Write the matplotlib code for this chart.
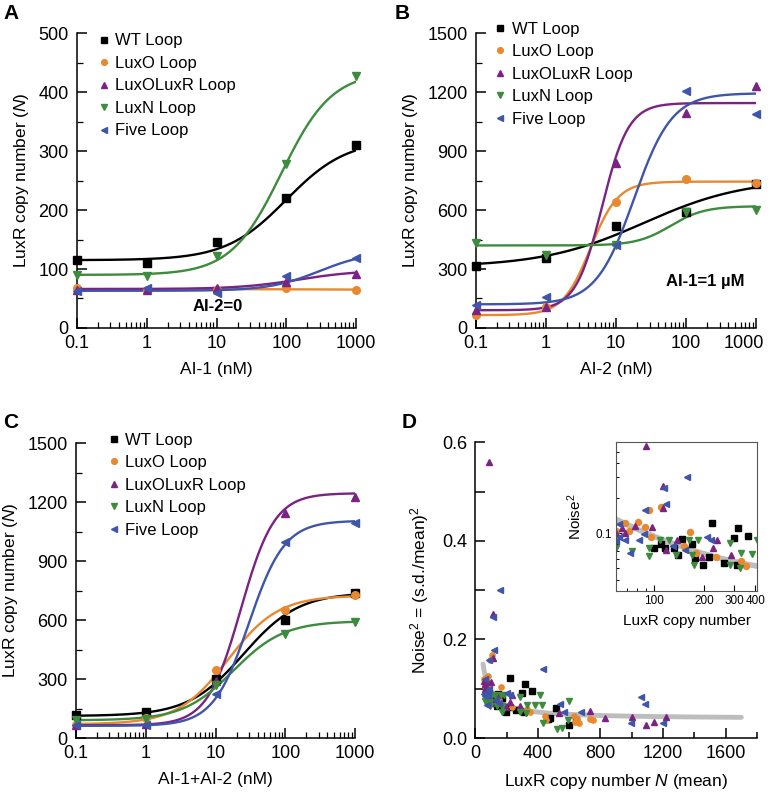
import numpy as np
import matplotlib
matplotlib.use("Agg")
import matplotlib.pyplot as plt
from matplotlib.ticker import FixedLocator, NullFormatter, LogLocator
from matplotlib.transforms import ScaledTranslation

plt.rcParams['font.family'] = ['Liberation Sans', 'DejaVu Sans']
plt.rcParams['mathtext.fontset'] = 'custom'
plt.rcParams['mathtext.rm'] = 'Liberation Sans'
plt.rcParams['mathtext.it'] = 'Liberation Sans:italic'
plt.rcParams['axes.linewidth'] = 1.1

# strains
names = ['WT Loop', 'LuxO Loop', 'LuxOLuxR Loop', 'LuxN Loop', 'Five Loop']
colors = ['#000000', '#E8892F', '#7A2383', '#3D8B3D', '#3F55AA']
markers = ['s', 'o', '^', 'v', '<']

conc = [0.1, 1, 10, 100, 1000]

# panel A: AI-1 (AI-2 = 0)
a_vals = [
    [115, 110, 145, 220, 310],
    [67, 65, 65, 67, 65],
    [65, 65, 68, 78, 92],
    [90, 88, 122, 278, 428],
    [63, 67, 60, 88, 118],
]
# Hill fits: bottom, top, EC50, n
a_fit = [
    [115, 320, 100, 1.0],
    [66, 65, 100, 1.0],
    [66, 98, 150, 1.0],
    [90, 435, 85, 1.2],
    [63, 130, 300, 1.2],
]

# panel B: AI-2 (AI-1 = 1 uM)
b_vals = [
    [315, 355, 520, 590, 735],
    [65, 105, 640, 760, 740],
    [90, 105, 840, 1095, 1230],
    [430, 370, 420, 590, 600],
    [115, 155, 420, 1205, 1090],
]
b_fit = [
    [310, 760, 25, 0.6],
    [65, 745, 4.3, 2.2],
    [90, 1145, 6.3, 2.3],
    [420, 620, 60, 1.8],
    [120, 1195, 18, 1.6],
]

# panel C: AI-1 + AI-2
c_vals = [
    [115, 130, 300, 600, 735],
    [65, 100, 345, 650, 725],
    [65, 70, 290, 1145, 1225],
    [90, 95, 270, 530, 590],
    [65, 65, 225, 995, 1095],
]
c_fit = [
    [112, 740, 25, 1.1],
    [70, 725, 15, 1.2],
    [65, 1245, 23, 1.8],
    [90, 595, 18, 1.2],
    [62, 1105, 30, 1.7],
]

# panel D: noise^2 vs mean copy number
d_wt_n = [110, 117, 132, 148, 170, 177, 197, 214, 222, 260, 298, 316, 312, 362,
          458, 467, 480, 518, 602, 644, 100, 140]
d_wt_y = [0.081, 0.074, 0.074, 0.090, 0.081, 0.061, 0.053, 0.062, 0.122, 0.056,
          0.091, 0.110, 0.053, 0.095, 0.038, 0.039, 0.041, 0.060, 0.026, 0.036,
          0.075, 0.065]
d_luxo_n = [68, 81, 89, 94, 96, 110, 152, 164, 179, 236, 331, 352, 72,
            443, 450, 630, 640, 650, 660, 731, 753, 55, 60]
d_luxo_y = [0.121, 0.125, 0.112, 0.159, 0.093, 0.168, 0.077, 0.103, 0.067, 0.063,
            0.058, 0.052, 0.105, 0.044, 0.037, 0.045, 0.032, 0.038, 0.030, 0.039,
            0.037, 0.120, 0.105]
d_luxor_n = [90, 113, 113, 98, 78, 65, 68, 118, 138, 194, 224, 238, 288,
             538, 736, 832, 1003, 1088, 1141, 1216, 55, 60]
d_luxor_y = [0.56, 0.252, 0.163, 0.113, 0.115, 0.110, 0.100, 0.072, 0.087, 0.063,
             0.074, 0.087, 0.065, 0.050, 0.055, 0.040, 0.042, 0.026, 0.033, 0.043,
             0.115, 0.100]
d_luxn_n = [94, 94, 109, 124, 136, 162, 170, 173, 183, 285, 285, 331, 326, 383,
            412, 427, 433, 523, 553, 590, 597, 75, 60]
d_luxn_y = [0.074, 0.064, 0.088, 0.088, 0.065, 0.088, 0.065, 0.053, 0.087, 0.053,
            0.083, 0.067, 0.050, 0.066, 0.087, 0.066, 0.031, 0.018, 0.020, 0.037,
            0.076, 0.070, 0.075]
d_five_n = [158, 116, 118, 89, 62, 62, 68, 73, 82, 88, 130, 154, 206, 220,
            433, 540, 566, 676, 992, 1056, 1082, 1197, 55, 60]
d_five_y = [0.300, 0.245, 0.179, 0.159, 0.119, 0.092, 0.088, 0.068, 0.088, 0.099,
            0.077, 0.072, 0.092, 0.088, 0.141, 0.069, 0.053, 0.052, 0.030, 0.084,
            0.070, 0.031, 0.090, 0.085]
d_n = [d_wt_n, d_luxo_n, d_luxor_n, d_luxn_n, d_five_n]
d_y = [d_wt_y, d_luxo_y, d_luxor_y, d_luxn_y, d_five_y]
# gray fit: noise^2 = a + b / N
fit_a, fit_b = 0.0387, 5.56


def hill(x, p):
    bot, top, ec, n = p
    return bot + (top - bot) * x ** n / (ec ** n + x ** n)


def dose_panel(ax, vals, fits, ymax, ystep, xlabel, leg_anchor):
    xs = np.logspace(-1, 3, 300)
    for i in range(5):
        ax.plot(xs, hill(xs, fits[i]), color=colors[i], lw=1.7)
    for i in range(5):
        ms = 5.5 if markers[i] in ('s', 'o') else 6
        ax.plot(conc, vals[i], ls='none', marker=markers[i], color=colors[i],
                ms=ms, clip_on=False, label=names[i], zorder=3)
    ax.set_xscale('log')
    ax.set_xlim(0.1, 1000)
    ax.set_ylim(0, ymax)
    ax.set_xticks(conc)
    ax.set_xticklabels(['0.1', '1', '10', '100', '1000'])
    ax.xaxis.set_minor_locator(LogLocator(base=10, subs=np.arange(2, 10)))
    ax.xaxis.set_minor_formatter(NullFormatter())
    ax.set_yticks(np.arange(0, ymax + 1, ystep))
    ax.yaxis.set_minor_locator(FixedLocator(np.arange(ystep / 2, ymax, ystep)))
    for s in ['top', 'right']:
        ax.spines[s].set_visible(False)
    ax.tick_params(which='major', direction='in', length=7, width=1.1,
                   labelsize=13, pad=5)
    ax.tick_params(which='minor', direction='in', length=4, width=0.9)
    ax.tick_params(axis='y', which='major', pad=6)
    ax.set_xlabel(xlabel, fontsize=12.5, labelpad=7)
    ax.set_ylabel(r'LuxR copy number ($\mathit{N}$)', fontsize=12.5, labelpad=5)
    ax.legend(loc='upper left', bbox_to_anchor=leg_anchor, frameon=False,
              fontsize=12, handlelength=0.7, handletextpad=0.35,
              labelspacing=0.45, borderpad=0, borderaxespad=0, markerscale=0.75)


fig = plt.figure(figsize=(7.74, 7.94), dpi=100)

axA = fig.add_axes([0.0995, 0.587, 0.3605, 0.371])
dose_panel(axA, a_vals, a_fit, 500, 100, 'AI-1 (nM)', (0.075, 1.0))
axA.text(10.5, 36, 'AI-2=0', fontsize=12, fontweight='bold', ha='center', va='center')

axB = fig.add_axes([0.615, 0.587, 0.362, 0.371])
dose_panel(axB, b_vals, b_fit, 1500, 300, 'AI-2 (nM)', (0.065, 1.04))
axB.text(190, 235, 'AI-1=1 µM', fontsize=12, fontweight='bold', ha='center', va='center')
# last tick label of B is nudged left to stay inside the figure
lastlab = axB.get_xticklabels()[-1]
lastlab.set_transform(lastlab.get_transform() + ScaledTranslation(-9 / 72, 0, fig.dpi_scale_trans))

axC = fig.add_axes([0.098, 0.0705, 0.361, 0.3715])
dose_panel(axC, c_vals, c_fit, 1500, 300, 'AI-1+AI-2 (nM)', (0.115, 1.035))

# panel D
axD = fig.add_axes([0.614, 0.0705, 0.364, 0.3725])
nn = np.linspace(50, 1700, 300)
axD.plot(nn, fit_a + fit_b / nn, color='#BDBDBD', lw=3.5, zorder=1, solid_capstyle='round')
for i in range(5):
    axD.plot(d_n[i], d_y[i], ls='none', marker=markers[i], color=colors[i], ms=3.8, zorder=2)
axD.set_xlim(0, 1800)
axD.set_ylim(0, 0.6)
axD.set_xticks([0, 400, 800, 1200, 1600])
axD.xaxis.set_minor_locator(FixedLocator([200, 600, 1000, 1400, 1800]))
axD.set_yticks([0.0, 0.2, 0.4, 0.6])
axD.set_yticklabels(['0.0', '0.2', '0.4', '0.6'])
axD.yaxis.set_minor_locator(FixedLocator([0.1, 0.3, 0.5]))
for s in ['top', 'right']:
    axD.spines[s].set_visible(False)
axD.tick_params(which='major', direction='in', length=7, width=1.1, labelsize=13, pad=5)
axD.tick_params(which='minor', direction='in', length=7, width=1.1)
axD.tick_params(axis='x', which='minor', length=4)
axD.tick_params(axis='y', which='major', pad=6)
axD.set_xlabel(r'LuxR copy number $\mathit{N}$ (mean)', fontsize=12.5, labelpad=7)
axD.set_ylabel(r'Noise$^2$ = (s.d./mean)$^2$', fontsize=12.5, labelpad=8)

# inset
axI = fig.add_axes([0.796, 0.2557, 0.182, 0.1873])
nn2 = np.linspace(60, 410, 200)
axI.plot(nn2, fit_a + fit_b / nn2, color='#BDBDBD', lw=4, zorder=1)
for i in range(5):
    axI.plot(d_n[i], d_y[i], ls='none', marker=markers[i], color=colors[i], ms=4.3, zorder=2)
axI.set_xscale('log')
axI.set_yscale('log')
axI.set_xlim(60, 410)
axI.set_ylim(0.032, 0.6)
axI.set_xticks([100, 200, 300, 400])
axI.set_xticklabels(['100', '200', '300', '400'])
axI.xaxis.set_minor_locator(LogLocator(base=10, subs=np.arange(2, 10)))
axI.xaxis.set_minor_formatter(NullFormatter())
axI.set_yticks([0.1])
axI.set_yticklabels(['0.1'])
axI.yaxis.set_minor_locator(LogLocator(base=10, subs=np.arange(2, 10)))
axI.yaxis.set_minor_formatter(NullFormatter())
axI.tick_params(which='major', direction='in', length=4, width=0.8, labelsize=8.5, pad=3)
axI.tick_params(which='minor', direction='in', length=2.5, width=0.7)
axI.set_xlabel('LuxR copy number', fontsize=11, labelpad=5)
axI.set_ylabel(r'Noise$^2$', fontsize=11, labelpad=8)
for s in axI.spines.values():
    s.set_linewidth(0.8)
    s.set_color('#555555')

# panel letters
for lab, x, y in [('A', 0.004, 0.983), ('B', 0.51, 0.983), ('C', 0.004, 0.468), ('D', 0.519, 0.468)]:
    fig.text(x, y, lab, fontsize=15, fontweight='bold', ha='left', va='center')

fig.savefig('out.png', dpi=100)
